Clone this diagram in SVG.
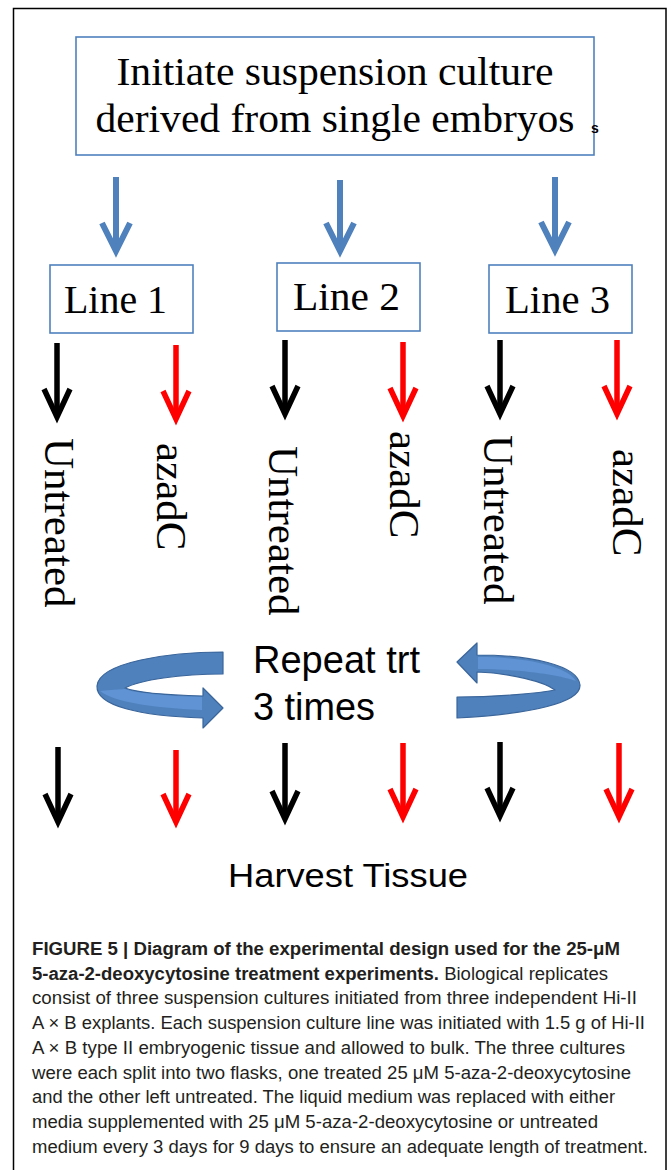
<svg xmlns="http://www.w3.org/2000/svg" width="671" height="1170" viewBox="0 0 671 1170">
  <style>
    .box { fill: #fff; stroke: #4F81BD; stroke-width: 1.6; }
    .serif { font-family: "Liberation Serif", "Times New Roman", serif; fill: #000; }
    .sans { font-family: "Liberation Sans", Arial, sans-serif; fill: #000; }
    .cap { font-family: "Liberation Sans", Arial, sans-serif; font-size: 17.5px; fill: #231f20; }
    .cap .b { font-weight: bold; }
    .shaft-blue { stroke: #4F81BD; stroke-width: 6; fill: none; }
    .shaft-black { stroke: #000; stroke-width: 5.5; fill: none; }
    .shaft-red { stroke: #FF0000; stroke-width: 5.5; fill: none; }
    .loop { fill: #4F81BD; stroke: #3A659A; stroke-width: 1.2; stroke-linejoin: round; }
    .loop-face { fill: #5F93D3; stroke: none; }
  </style>
  <defs>
    <marker id="head-blue" markerUnits="userSpaceOnUse" viewBox="-40 -25 50 50" markerWidth="50" markerHeight="50" refX="0" refY="0" orient="auto" overflow="visible">
      <path d="M-28,-14 L0,0 L-28,14" fill="none" stroke="#4F81BD" stroke-width="6"/>
    </marker>
    <marker id="head-black" markerUnits="userSpaceOnUse" viewBox="-40 -25 50 50" markerWidth="50" markerHeight="50" refX="0" refY="0" orient="auto" overflow="visible">
      <path d="M-28,-13 L0,0 L-28,13" fill="none" stroke="#000" stroke-width="5.5"/>
    </marker>
    <marker id="head-red" markerUnits="userSpaceOnUse" viewBox="-40 -25 50 50" markerWidth="50" markerHeight="50" refX="0" refY="0" orient="auto" overflow="visible">
      <path d="M-28,-13 L0,0 L-28,13" fill="none" stroke="#FF0000" stroke-width="5.5"/>
    </marker>
  </defs>

  <rect width="671" height="1170" fill="#fff"/>
  <!-- figure frame -->
  <rect x="13.5" y="8.5" width="652.5" height="1180" fill="none" stroke="#000" stroke-width="1.5"/>

  <!-- starting node -->
  <g id="node-initiate">
    <rect class="box" x="76" y="37" width="518" height="118"/>
    <text class="serif" x="335" y="85" font-size="41" text-anchor="middle" textLength="437" lengthAdjust="spacingAndGlyphs">Initiate suspension culture</text>
    <text class="serif" x="335" y="132" font-size="41" text-anchor="middle" textLength="479" lengthAdjust="spacingAndGlyphs">derived from single embryos</text>
    <text class="sans" x="591" y="133" font-size="14" font-weight="bold">s</text>
  </g>

  <!-- culture lines -->
  <g id="node-line1">
    <rect class="box" x="50" y="265" width="143" height="68"/>
    <text class="serif" x="64" y="313" font-size="40" textLength="103" lengthAdjust="spacingAndGlyphs">Line 1</text>
  </g>
  <g id="node-line2">
    <rect class="box" x="277" y="263" width="143" height="68"/>
    <text class="serif" x="293" y="310" font-size="40" textLength="107" lengthAdjust="spacingAndGlyphs">Line 2</text>
  </g>
  <g id="node-line3">
    <rect class="box" x="489" y="265" width="143" height="68"/>
    <text class="serif" x="505" y="313" font-size="40" textLength="105" lengthAdjust="spacingAndGlyphs">Line 3</text>
  </g>

  <!-- treatment branches, set vertically -->
  <g id="node-l1-untreated"><text class="serif" font-size="43" transform="translate(45,438) rotate(90)">Untreated</text></g>
  <g id="node-l1-azadc"><text class="serif" font-size="43" transform="translate(157,443) rotate(90)">azadC</text></g>
  <g id="node-l2-untreated"><text class="serif" font-size="43" transform="translate(269,446) rotate(90)">Untreated</text></g>
  <g id="node-l2-azadc"><text class="serif" font-size="43" transform="translate(390,431) rotate(90)">azadC</text></g>
  <g id="node-l3-untreated"><text class="serif" font-size="43" transform="translate(484,435) rotate(90)">Untreated</text></g>
  <g id="node-l3-azadc"><text class="serif" font-size="43" transform="translate(613,449) rotate(90)">azadC</text></g>

  <!-- repeat loop -->
  <g id="node-repeat">
    <!-- left curled arrow -->
    <path class="loop" d="M223,652 C170,652 99,662 97,686 C96,706 140,716 203,718 L203,728 L223,708 L203,688 L203,696 C165,695 135,692 125,688 C140,680 180,674 223,674 Z"/>
    <path class="loop-face" d="M100,691 C112,701 150,708 202,710 L202,697 C165,696 135,693 125,689 C115,690 106,690 100,691 Z"/>
    <!-- right curled arrow -->
    <path class="loop" d="M477,655 C530,655 578,665 580,685 C581,703 530,714 457,718 L457,697 C500,697 540,693 555,690 C545,682 510,673 477,672 L477,683 L457,662 L477,643 Z"/>
    <path class="loop-face" d="M478,657 C528,657 568,667 576,681 C560,675 520,669 478,669 Z"/>
    <text class="sans" x="253" y="673" font-size="38" textLength="167" lengthAdjust="spacingAndGlyphs">Repeat trt</text>
    <text class="sans" x="253" y="720" font-size="38" textLength="122" lengthAdjust="spacingAndGlyphs">3 times</text>
  </g>

  <g id="node-harvest">
    <text class="sans" x="228" y="887" font-size="34" textLength="240" lengthAdjust="spacingAndGlyphs">Harvest Tissue</text>
  </g>

  <!-- connectors -->
  <g id="connectors">
    <path class="shaft-blue" d="M116,177 V251" marker-end="url(#head-blue)"/>
    <path class="shaft-blue" d="M340,180 V251" marker-end="url(#head-blue)"/>
    <path class="shaft-blue" d="M555,177 V250" marker-end="url(#head-blue)"/>

    <path class="shaft-black" d="M57,343 V417" marker-end="url(#head-black)"/>
    <path class="shaft-red" d="M176,345 V419" marker-end="url(#head-red)"/>
    <path class="shaft-black" d="M285,340 V414" marker-end="url(#head-black)"/>
    <path class="shaft-red" d="M403,342 V416" marker-end="url(#head-red)"/>
    <path class="shaft-black" d="M500,340 V414" marker-end="url(#head-black)"/>
    <path class="shaft-red" d="M617,340 V414" marker-end="url(#head-red)"/>

    <path class="shaft-black" d="M58,747 V822" marker-end="url(#head-black)"/>
    <path class="shaft-red" d="M176,750 V822" marker-end="url(#head-red)"/>
    <path class="shaft-black" d="M285,743 V819" marker-end="url(#head-black)"/>
    <path class="shaft-red" d="M403,743 V817" marker-end="url(#head-red)"/>
    <path class="shaft-black" d="M500,742 V816" marker-end="url(#head-black)"/>
    <path class="shaft-red" d="M619,743 V817" marker-end="url(#head-red)"/>
  </g>

  <!-- caption -->
  <g id="caption" class="cap">
    <text x="32" y="955" textLength="588" lengthAdjust="spacingAndGlyphs"><tspan class="b">FIGURE 5 | Diagram of the experimental design used for the 25-μM</tspan></text>
    <text x="32" y="979.7" textLength="576" lengthAdjust="spacingAndGlyphs"><tspan class="b">5-aza-2-deoxycytosine treatment experiments.</tspan> Biological replicates</text>
    <text x="32" y="1004.4" textLength="605" lengthAdjust="spacingAndGlyphs">consist of three suspension cultures initiated from three independent Hi-II</text>
    <text x="32" y="1029.1" textLength="613" lengthAdjust="spacingAndGlyphs">A × B explants. Each suspension culture line was initiated with 1.5 g of Hi-II</text>
    <text x="32" y="1053.8" textLength="593" lengthAdjust="spacingAndGlyphs">A × B type II embryogenic tissue and allowed to bulk. The three cultures</text>
    <text x="32" y="1078.5" textLength="599" lengthAdjust="spacingAndGlyphs">were each split into two flasks, one treated 25 μM 5-aza-2-deoxycytosine</text>
    <text x="32" y="1103.2" textLength="583" lengthAdjust="spacingAndGlyphs">and the other left untreated. The liquid medium was replaced with either</text>
    <text x="32" y="1127.9" textLength="566" lengthAdjust="spacingAndGlyphs">media supplemented with 25 μM 5-aza-2-deoxycytosine or untreated</text>
    <text x="32" y="1152.6" textLength="616" lengthAdjust="spacingAndGlyphs">medium every 3 days for 9 days to ensure an adequate length of treatment.</text>
  </g>
</svg>
